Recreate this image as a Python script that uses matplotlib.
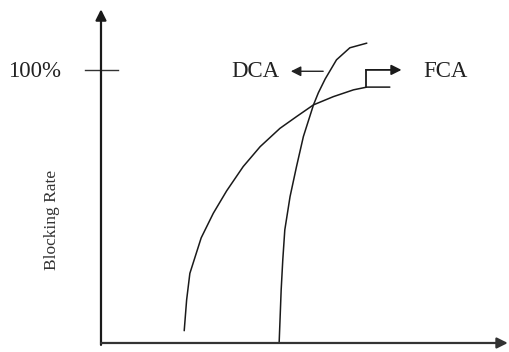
import numpy as np
import matplotlib.pyplot as plt

# Traffic load (arbitrary units) vs blocking rate (%)
fca_load = [2.06, 2.12, 2.20, 2.48, 2.78, 3.11, 3.52, 3.94, 4.43, 4.84,
            5.26, 5.75, 6.25, 6.58, 7.15]
fca_block = [4.5, 15.8, 25.5, 38.5, 47.5, 55.7, 64.6, 71.9, 78.6, 82.9,
             87.2, 90.2, 92.7, 93.7, 93.7]

dca_load = [4.41, 4.46, 4.50, 4.55, 4.68, 4.84, 5.01, 5.26, 5.38, 5.55,
            5.83, 6.16, 6.58]
dca_block = [0.0, 19.4, 30.4, 41.4, 53.6, 64.6, 75.6, 87.2, 91.6, 96.7,
             103.7, 108.1, 109.8]

y_tick_label = '100%'
y_label = 'Blocking Rate'

plt.rcParams['font.family'] = ['Liberation Serif', 'DejaVu Serif']

fig = plt.figure(figsize=(5.09, 3.52), dpi=100)
ax = fig.add_axes([0, 0, 1, 1])
ax.set_xlim(-2.5, 10.1)
ax.set_ylim(-3.3, 125.6)
ax.axis('off')

# Axes with arrow heads
ax.annotate('', xy=(0, 122.2), xytext=(0, -0.7),
            arrowprops=dict(arrowstyle='-|>', color='#1a1a1a', lw=1.6,
                            mutation_scale=16, shrinkA=0, shrinkB=0))
ax.annotate('', xy=(10.07, 0), xytext=(0, 0),
            arrowprops=dict(arrowstyle='-|>', color='#333333', lw=1.6,
                            mutation_scale=16, shrinkA=0, shrinkB=0))

# 100% tick
ax.plot([-0.40, 0.42], [100, 100], color='#333333', lw=1.0)
ax.text(-2.30, 99.3, y_tick_label, ha='left', va='center', fontsize=16.5,
        color='#222222')

ax.text(-1.21, 45, y_label, rotation=90, ha='center', va='center',
        fontsize=12.5, color='#333333')

# Curves
ax.plot(fca_load, fca_block, color='#1a1a1a', lw=1.1,
        solid_capstyle='round', solid_joinstyle='round')
ax.plot(dca_load, dca_block, color='#1a1a1a', lw=1.1,
        solid_capstyle='round', solid_joinstyle='round')

# DCA label and arrow
ax.text(3.81, 99.5, 'DCA', ha='center', va='center', fontsize=16.5,
        color='#222222')
ax.annotate('', xy=(4.70, 99.5), xytext=(5.50, 99.5),
            arrowprops=dict(arrowstyle='-|>', color='#222222', lw=1.0,
                            mutation_scale=15, shrinkA=0, shrinkB=0))

# FCA bracket arrow and label
ax.plot([6.56, 6.56], [93.7, 100], color='#1a1a1a', lw=1.3)
ax.annotate('', xy=(7.44, 100), xytext=(6.56, 100),
            arrowprops=dict(arrowstyle='-|>', color='#1a1a1a', lw=1.3,
                            mutation_scale=15, shrinkA=0, shrinkB=0))
ax.text(8.52, 99.5, 'FCA', ha='center', va='center', fontsize=16.5,
        color='#222222')

fig.savefig('out.png', dpi=100)
